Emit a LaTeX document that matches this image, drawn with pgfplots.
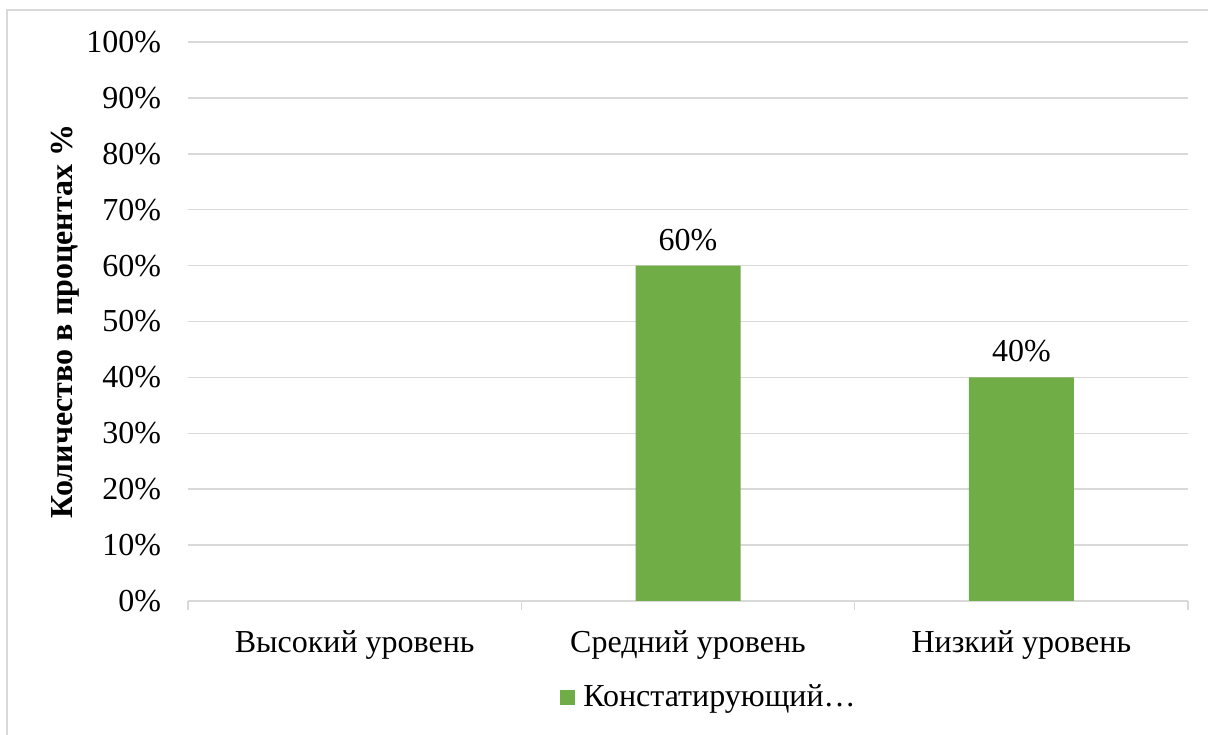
\documentclass[border=0pt]{standalone}
\usepackage{pgfplots}
\pgfplotsset{compat=1.18}
\usepackage{fontspec}
\setmainfont{Liberation Serif}
\definecolor{bargreen}{HTML}{70AD47}
\definecolor{gridgray}{HTML}{D9D9D9}
\begin{document}
\fontsize{16bp}{19bp}\selectfont
\begin{tikzpicture}
\useasboundingbox (-94bp,-67bp) rectangle (510bp,300.5bp);
\draw[gridgray, line width=0.75bp] (-90.5bp,-67bp) -- (-90.5bp,295.5bp) -- (510bp,295.5bp);
\begin{axis}[
  at={(0,0)}, anchor=south west,
  scale only axis, width=500bp, height=279.5bp,
  ybar, bar width=52.5bp,
  xmin=-0.5, xmax=2.5, ymin=0, ymax=100,
  xtick={0,1,2},
  xticklabels={Высокий уровень,Средний уровень,Низкий уровень},
  minor xtick={-0.5,0.5,1.5,2.5},
  ytick={0,10,...,100},
  yticklabels={0\%,10\%,20\%,30\%,40\%,50\%,60\%,70\%,80\%,90\%,100\%},
  major tick length=0pt, minor tick length=4.5bp,
  xtick align=outside, xtick pos=bottom, ytick pos=left,
  tick style={gridgray, line width=0.75bp},
  axis x line*=bottom, axis y line*=left,
  x axis line style={gridgray, line width=0.75bp, -},
  y axis line style={draw=none},
  ymajorgrids, major grid style={gridgray, line width=0.75bp},
  yticklabel style={anchor=east, xshift=-8bp},
  xticklabel style={yshift=-9.5bp},
  ylabel={\bfseries Количество в процентах \%},
  ylabel style={at={(rel axis cs:0,0.5)}, anchor=south, yshift=49bp},
  nodes near coords={\pgfmathprintnumber{\pgfplotspointmeta}\%},
  nodes near coords style={yshift=2bp},
  /pgf/number format/assume math mode=true,
  legend style={at={(0.522,-0.1735)}, anchor=center, draw=none, fill=none},
  legend image code/.code={\fill[#1] (0bp,-3.75bp) rectangle (7.5bp,3.75bp);},
  legend cell align=left,
  legend style={/tikz/every odd column/.append style={column sep=2bp}},
  font=\fontsize{16bp}{19bp}\selectfont,
]
\addplot[fill=bargreen, draw=none] coordinates {(1,60) (2,40)};
\addlegendentry{Констатирующий…}
\end{axis}
\end{tikzpicture}
\end{document}
